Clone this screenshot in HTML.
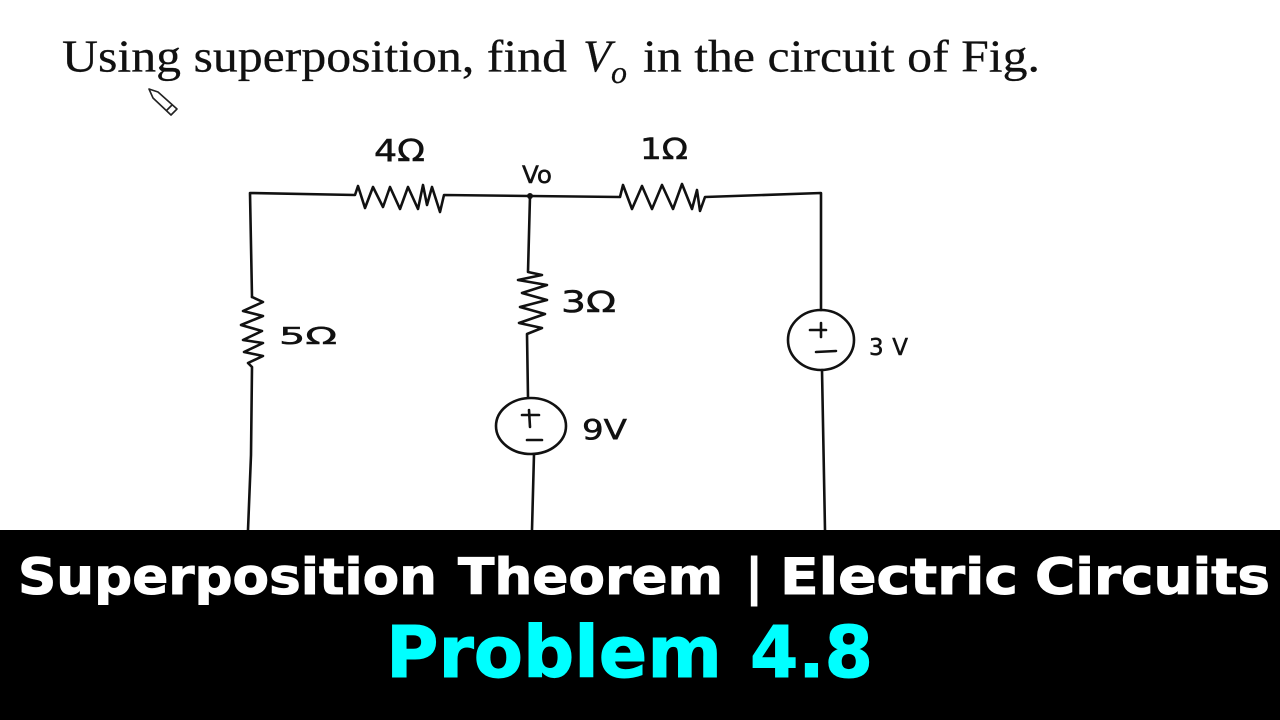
<!DOCTYPE html>
<html>
<head>
<meta charset="utf-8">
<style>
html,body{margin:0;padding:0;background:#fff;width:1280px;height:720px;overflow:hidden}
svg{display:block}
.w{fill:none;stroke:#111;stroke-width:2.6;stroke-linejoin:round;stroke-linecap:round}
.h{font-family:"DejaVu Sans","Liberation Sans",sans-serif;fill:#111;stroke:#111;stroke-width:.5}
.t{font-family:"Liberation Serif",serif;font-size:46px;fill:#111;stroke:#111;stroke-width:.25}
.b{font-family:"DejaVu Sans","Liberation Sans",sans-serif;font-weight:bold}
.wt{font-size:50px;fill:#fff;stroke:#fff;stroke-width:1}
.cy{font-size:71px;fill:#0ff;stroke:#0ff;stroke-width:1}
</style>
</head>
<body>
<svg width="1280" height="720" viewBox="0 0 1280 720" xmlns="http://www.w3.org/2000/svg">
<rect width="1280" height="720" fill="#fff"/>
<text class="t" x="62" y="71.5" textLength="505" lengthAdjust="spacingAndGlyphs">Using superposition, find</text>
<text class="t" x="583" y="71.5" font-style="italic">V</text>
<text class="t" x="611" y="83" font-style="italic" style="font-size:32px">o</text>
<text class="t" x="643" y="71.5" textLength="397" lengthAdjust="spacingAndGlyphs">in the circuit of Fig.</text>
<path d="M149 89 L158 92 L177 109 L171 115 L153 98 Z M172 105 L166 111" fill="none" stroke="#222" stroke-width="1.6" stroke-linejoin="round"/>
<path class="w" d="M252 297 L250 193 L355 195 L358 186 L365 208 L373 187 L383 207 L390 187 L400 209 L408 187 L418 209 L423 185 L427 205 L432 187 L440 212 L444 195 L530 196 L620 197 L623 185 L632 209 L642 186 L652 209 L662 185 L673 209 L682 184 L692 209 L697 190 L700 211 L705 197 L821 193 L821 310"/>
<path class="w" d="M252 297 L263 302 L243 311 L263 316 L241 325 L262 331 L243 340 L263 343 L244 352 L263 356 L248 363 L252 367 L251 455 L248 530"/>
<path class="w" d="M530 196 L528 272 L542 275 L518 280 L547 285 L522 293 L547 300 L520 307 L545 314 L519 323 L542 328 L527 334 L528 397"/>
<circle cx="530" cy="196" r="3" fill="#111"/>
<ellipse class="w" cx="531" cy="426" rx="35" ry="28"/>
<path class="w" d="M522 415 L539 415 M529 410 L530 427 M527 440 L542 440 M534 454 L532 530"/>
<ellipse class="w" cx="821" cy="340" rx="33" ry="30"/>
<path class="w" d="M810 330 L826 330 M821 323 L821 337 M816 352 L836 351 M822 370 L825 530"/>
<text class="h" x="374" y="161" font-size="30" textLength="51" lengthAdjust="spacingAndGlyphs">4Ω</text>
<text class="h" x="640" y="159" font-size="29" textLength="48" lengthAdjust="spacingAndGlyphs">1Ω</text>
<text class="h" x="522" y="183" font-size="24" textLength="30" lengthAdjust="spacingAndGlyphs">Vo</text>
<text class="h" x="279" y="344" font-size="23" textLength="58" lengthAdjust="spacingAndGlyphs">5Ω</text>
<text class="h" x="561" y="312" font-size="29" textLength="55" lengthAdjust="spacingAndGlyphs">3Ω</text>
<text class="h" x="582" y="439" font-size="28" textLength="45" lengthAdjust="spacingAndGlyphs">9V</text>
<text class="h" x="869" y="355" font-size="23" textLength="39">3 V</text>
<rect x="0" y="530" width="1280" height="190" fill="#000"/>
<text class="b wt" x="18" y="594" textLength="419" lengthAdjust="spacingAndGlyphs">Superposition</text>
<text class="b wt" x="458" y="594" textLength="265" lengthAdjust="spacingAndGlyphs">Theorem</text>
<text class="b wt" x="745" y="594">|</text>
<text class="b wt" x="780" y="594" textLength="238" lengthAdjust="spacingAndGlyphs">Electric</text>
<text class="b wt" x="1035" y="594" textLength="235" lengthAdjust="spacingAndGlyphs">Circuits</text>
<text class="b cy" x="386" y="677" textLength="336" lengthAdjust="spacingAndGlyphs">Problem</text>
<text class="b cy" x="750" y="677" textLength="123" lengthAdjust="spacingAndGlyphs">4.8</text>
</svg>
</body>
</html>
